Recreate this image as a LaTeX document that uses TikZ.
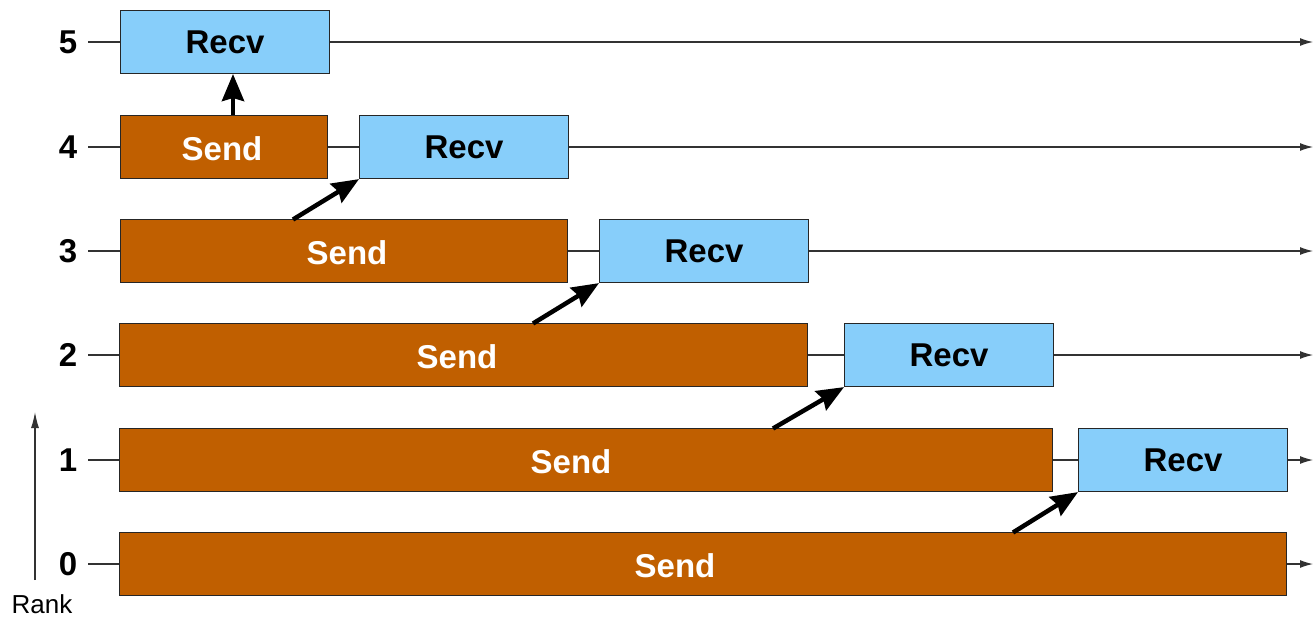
\documentclass[tikz,border=0pt]{standalone}
\usepackage{fontspec}
\setmainfont{Liberation Sans}
\usetikzlibrary{arrows.meta}
\definecolor{sendfill}{RGB}{192,95,0}
\definecolor{recvfill}{RGB}{135,206,250}
\definecolor{axisgray}{RGB}{50,50,50}
\begin{document}
\begin{tikzpicture}[x=1pt,y=-1pt,
  timeline/.style={draw=axisgray,line width=1.2pt,-{Latex[length=13pt,width=8pt]}},
  sendbox/.style={draw=black!85,line width=1.2pt,fill=sendfill,minimum height=63pt,inner sep=0pt,anchor=west},
  recvbox/.style={draw=black!85,line width=1.2pt,fill=recvfill,minimum height=63pt,minimum width=209pt,inner sep=0pt,anchor=west,
    font=\fontsize{33}{33}\selectfont\bfseries,text=black},
  sendtext/.style={font=\fontsize{33}{33}\selectfont\bfseries,text=white,inner sep=0pt},
  ranklabel/.style={font=\fontsize{33}{33}\selectfont\bfseries,inner sep=0pt},
  msg/.style={draw=black,line width=4.5pt,-{Stealth[length=27pt,width=22pt,inset=3pt]}}]
\useasboundingbox (0,0) rectangle (1314,616);

% rank numbers and their time lines
\foreach \r/\y in {5/42,4/147,3/251,2/355,1/460,0/564}{
  \node[ranklabel] (rank\r) at (68,\y) {\r};
  \coordinate (lstart\r) at (88,\y);
  \coordinate (lend\r) at (1313,\y);
  \draw[timeline] (lstart\r) -- (lend\r);
}

% rank axis
\coordinate (axbot) at (35,580);
\coordinate (axtop) at (35,412);
\draw[draw=axisgray,line width=1.2pt,-{Latex[length=16pt,width=8pt]}] (axbot) -- (axtop);
\node[font=\fontsize{26}{26}\selectfont,inner sep=0pt,anchor=base] (ranktitle) at (42,613) {Rank};

% send phases
\node[sendbox,minimum width=207pt] (send4) at (120,147) {};
\node[sendbox,minimum width=447pt] (send3) at (120,251) {};
\node[sendbox,minimum width=688pt] (send2) at (119,355) {};
\node[sendbox,minimum width=933pt] (send1) at (119,460) {};
\node[sendbox,minimum width=1167pt] (send0) at (119,564) {};
\node[sendtext] (st4) at (222,149) {Send};
\node[sendtext] (st3) at (347,253) {Send};
\node[sendtext] (st2) at (457,357) {Send};
\node[sendtext] (st1) at (571,462) {Send};
\node[sendtext] (st0) at (675,566) {Send};

% receive phases
\node[recvbox] (recv5) at (120,42) {Recv};
\node[recvbox] (recv4) at (359,147) {Recv};
\node[recvbox] (recv3) at (599,251) {Recv};
\node[recvbox] (recv2) at (844,355) {Recv};
\node[recvbox] (recv1) at (1078,460) {Recv};

% messages between neighbouring ranks
\coordinate (m4) at (233,114.5);
\draw[msg] (m4) -- (233,74);
\coordinate (m3) at (293,219.5);
\draw[msg] (m3) -- (recv4.south west);
\coordinate (m2) at (533,323.5);
\draw[msg] (m2) -- (recv3.south west);
\coordinate (m1) at (773,428.5);
\draw[msg] (m1) -- (recv2.south west);
\coordinate (m0) at (1013,532.5);
\draw[msg] (m0) -- (recv1.south west);
\end{tikzpicture}
\end{document}
